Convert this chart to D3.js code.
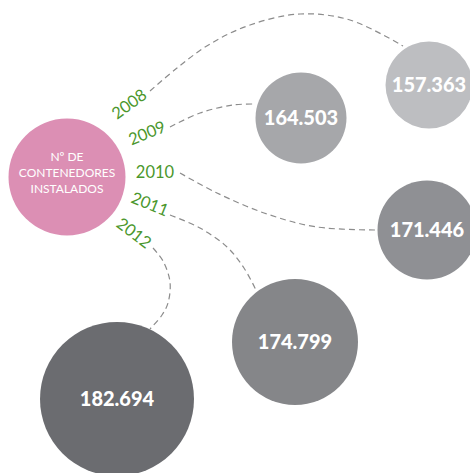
<!DOCTYPE html>
<html>
<head>
<meta charset="utf-8">
<script src="https://cdn.jsdelivr.net/npm/d3@7"></script>
<style>
  body { margin: 0; background: #fff; }
  svg { display: block; font-family: Lato, "Open Sans", sans-serif; }
</style>
</head>
<body>
<div id="visual"></div>
<script>
// contenedores instalados por año

const years  = ["2008", "2009", "2010", "2011", "2012"];
const values = [157363, 164503, 171446, 174799, 182694];
const centerLines = ["Nº DE", "CONTENEDORES", "INSTALADOS"];

// layout (hand placed, like the original)
const bubblePos = [[429, 85], [301, 118], [427, 230], [295, 342], [117, 399]];
const bubbleR   = [43.5, 45.5, 49.5, 63, 77];
const labelPos  = [[129, 104, -36], [147, 133, -22], [155, 172, 0], [150, 204, 22], [134, 233, 37]];
const links = [
  [[150, 91], [177, 68], [210, 44], [250, 25], [300, 14], [350, 20], [403, 46]],
  [[170, 127], [200, 113], [233, 105], [256, 104]],
  [[180, 173], [217, 193], [267, 214], [317, 227], [377, 230]],
  [[170, 215], [200, 228], [227, 247], [244, 268], [256, 290]],
  [[153, 248], [163, 261], [170, 282], [168, 303], [162, 315], [150, 329]]
];

const w = 470, h = 473;

const svg = d3.select("#visual")
  .append("svg")
  .attr("width", w)
  .attr("height", h);

const r = d3.scaleLinear().domain(values).range(bubbleR);
const col = d3.scaleLinear()
  .domain(d3.extent(values))
  .range(["#bdbec1", "#6b6c70"]);

const line = d3.line().curve(d3.curveCatmullRom);

// dashed connectors
svg.selectAll("path.link")
  .data(links)
  .enter().append("path")
    .attr("class", "link")
    .attr("d", line)
    .attr("fill", "none")
    .attr("stroke", "#8c8c8c")
    .attr("stroke-width", 1.2)
    .attr("stroke-dasharray", "6 4");

// center bubble
svg.append("circle")
  .attr("cx", 67)
  .attr("cy", 177)
  .attr("r", 58.5)
  .attr("fill", "#dc8fb4");

svg.selectAll("text.center")
  .data(centerLines)
  .enter().append("text")
    .attr("class", "center")
    .attr("x", 67)
    .attr("y", (d, i) => 161 + i * 16)
    .attr("text-anchor", "middle")
    .attr("font-size", "12px")
    .attr("fill", "#fff")
    .text(d => d);

// year labels
svg.selectAll("text.year")
  .data(years)
  .enter().append("text")
    .attr("class", "year")
    .attr("transform", (d, i) => `translate(${labelPos[i][0]},${labelPos[i][1]}) rotate(${labelPos[i][2]})`)
    .attr("text-anchor", "middle")
    .attr("dy", "0.35em")
    .attr("font-size", "16.5px")
    .attr("fill", "#4b972d")
    .text(d => d);

// value bubbles
const fmt = d3.formatLocale({ decimal: ",", thousands: ".", grouping: [3], currency: ["", ""] }).format(",");

const g = svg.selectAll("g.bubble")
  .data(values)
  .enter().append("g")
    .attr("class", "bubble")
    .attr("transform", (d, i) => `translate(${bubblePos[i][0]},${bubblePos[i][1]})`);

g.append("circle")
  .attr("r", d => r(d))
  .attr("fill", d => col(d));

g.append("text")
  .attr("text-anchor", "middle")
  .attr("dy", "0.36em")
  .attr("font-size", "20px")
  .attr("font-weight", 900)
  .attr("fill", "#fff")
  .text(d => fmt(d));
</script>
</body>
</html>
